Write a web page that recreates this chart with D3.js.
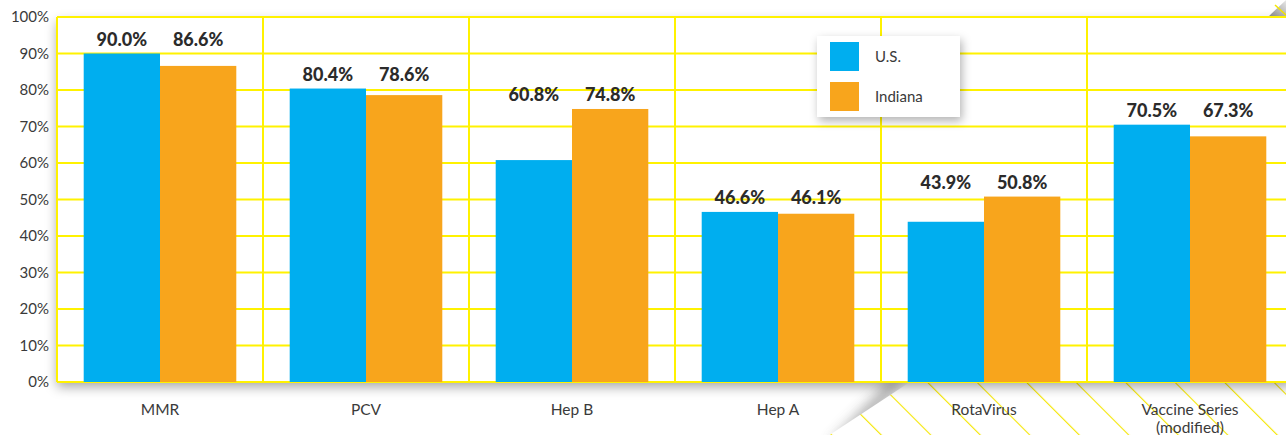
<!DOCTYPE html>
<html>
<head>
<meta charset="utf-8">
<script src="https://cdn.jsdelivr.net/npm/d3@7"></script>
<style>
  html, body { margin: 0; padding: 0; background: #fff; }
  svg { display: block; }
</style>
</head>
<body>
<svg id="chart" width="1286" height="435"></svg>
<script>
// ---- data ----
const categories = ["MMR", "PCV", "Hep B", "Hep A", "RotaVirus", "Vaccine Series (modified)"];
const categoryLines = [["MMR"], ["PCV"], ["Hep B"], ["Hep A"], ["RotaVirus"], ["Vaccine Series", "(modified)"]];
const seriesNames = ["U.S.", "Indiana"];
const usValues = [90.0, 80.4, 60.8, 46.6, 43.9, 70.5];
const indianaValues = [86.6, 78.6, 74.8, 46.1, 50.8, 67.3];
const yTicks = [0, 10, 20, 30, 40, 50, 60, 70, 80, 90, 100];
const colors = { "U.S.": "#00aeef", "Indiana": "#f8a51c" };

const W = 1286, H = 435;
const plot = { left: 57, right: 1293, top: 17, bottom: 382 };
const svg = d3.select("#chart");
const defs = svg.append("defs");

// filters
const sh = defs.append("filter").attr("id", "plotShadow")
  .attr("x", "-5%").attr("y", "-20%").attr("width", "110%").attr("height", "140%");
sh.append("feDropShadow").attr("dx", 0).attr("dy", 5).attr("stdDeviation", 6)
  .attr("flood-color", "#000").attr("flood-opacity", 0.35);
const lsh = defs.append("filter").attr("id", "legendShadow")
  .attr("x", "-30%").attr("y", "-30%").attr("width", "160%").attr("height", "170%");
lsh.append("feDropShadow").attr("dx", 2).attr("dy", 4).attr("stdDeviation", 5)
  .attr("flood-color", "#000").attr("flood-opacity", 0.3);
const blur = defs.append("filter").attr("id", "blur").attr("x", "-50%").attr("y", "-50%")
  .attr("width", "200%").attr("height", "200%");
blur.append("feGaussianBlur").attr("stdDeviation", 7);

// stripes pattern
const pat = defs.append("pattern").attr("id", "stripes").attr("patternUnits", "userSpaceOnUse")
  .attr("width", 35).attr("height", 35).attr("patternTransform", "rotate(-45)");
pat.append("rect").attr("width", 35).attr("height", 35).attr("fill", "#fff");
pat.append("line").attr("x1", 0).attr("y1", 0).attr("x2", 0).attr("y2", 35)
  .attr("stroke", "#f5e600").attr("stroke-width", 2.2);
// corner gradient
const cg = defs.append("linearGradient").attr("id", "cornerGrad")
  .attr("x1", "0").attr("y1", "1").attr("x2", "1").attr("y2", "0");
cg.append("stop").attr("offset", "0").attr("stop-color", "#888");
cg.append("stop").attr("offset", "1").attr("stop-color", "#e8e8e8");

svg.append("rect").attr("width", W).attr("height", H).attr("fill", "#fff");

// striped folded area beneath right part of plot
const foldPts = [[910, plot.bottom], [W + 20, plot.bottom], [W + 20, H + 20], [852 - 53, H + 20]];
svg.append("polygon")
  .attr("points", [[904, plot.bottom], [846, H + 10], [830, H + 10], [890, plot.bottom]].join(" "))
  .attr("fill", "#555").attr("opacity", 0.6).attr("filter", "url(#blur)");
svg.append("polygon").attr("points", foldPts.join(" ")).attr("fill", "url(#stripes)");

// top-right folded corner
svg.append("polygon")
  .attr("points", [[1268, plot.top], [W, 0], [W, plot.top]].join(" "))
  .attr("fill", "url(#cornerGrad)");
svg.append("line").attr("x1", 1275).attr("y1", 5).attr("x2", W).attr("y2", 15)
  .attr("stroke", "#f5e600").attr("stroke-width", 1.5);

// scales
const x0 = d3.scaleBand().domain(categories).range([plot.left, plot.right]).padding(0);
const x1 = d3.scaleBand().domain(seriesNames).range([0, x0.bandwidth()])
  .paddingInner(0).paddingOuter(0.35);
const y = d3.scaleLinear().domain([0, 100]).range([plot.bottom, plot.top]);

// plot background with shadow
svg.append("rect").attr("x", plot.left).attr("y", plot.top)
  .attr("width", plot.right - plot.left).attr("height", plot.bottom - plot.top)
  .attr("fill", "#fff").attr("filter", "url(#plotShadow)");

// grid
const grid = svg.append("g");
const gridColor = "#fff200";
grid.selectAll("line.h").data(yTicks).join("line")
  .attr("x1", plot.left).attr("x2", plot.right)
  .attr("y1", d => y(d)).attr("y2", d => y(d))
  .attr("stroke", gridColor).attr("stroke-width", 2);
grid.selectAll("line.v").data(categories).join("line")
  .attr("x1", d => x0(d)).attr("x2", d => x0(d))
  .attr("y1", plot.top).attr("y2", plot.bottom)
  .attr("stroke", gridColor).attr("stroke-width", 2);

// bars
const rows = categories.map((c, i) => ({ cat: c, vals: [
  { s: "U.S.", v: usValues[i] }, { s: "Indiana", v: indianaValues[i] }] }));
const groups = svg.append("g").selectAll("g").data(rows).join("g")
  .attr("transform", d => `translate(${x0(d.cat)},0)`);
groups.selectAll("rect").data(d => d.vals).join("rect")
  .attr("x", d => x1(d.s)).attr("width", x1.bandwidth())
  .attr("y", d => y(d.v)).attr("height", d => y(0) - y(d.v))
  .attr("fill", d => colors[d.s]);
// value labels
groups.selectAll("text").data(d => d.vals.map(v => ({ ...v, max: d3.max(d.vals, q => q.v) }))).join("text")
  .attr("x", d => x1(d.s) + x1.bandwidth() / 2)
  .attr("y", d => y(d.max) - 8)
  .attr("text-anchor", "middle")
  .attr("font-family", "Lato, 'Open Sans', sans-serif")
  .attr("font-weight", 900).attr("font-size", 18).attr("fill", "#2b2b2b")
  .text(d => d.v.toFixed(1) + "%");

// y axis labels
const yAxis = d3.axisLeft(y).tickValues(yTicks).tickFormat(d => d + "%").tickSize(0).tickPadding(8);
const ya = svg.append("g").attr("transform", `translate(${plot.left},0)`).call(yAxis);
ya.select(".domain").remove();
ya.selectAll("text").attr("font-family", "Lato, 'Open Sans', sans-serif")
  .attr("font-size", 15).attr("fill", "#3a3a3a");

// x axis labels
const xAxis = d3.axisBottom(x0).tickSize(0).tickFormat("");
const xa = svg.append("g").attr("transform", `translate(0,${plot.bottom})`).call(xAxis);
xa.select(".domain").remove();
xa.selectAll(".tick").each(function (d, i) {
  const t = d3.select(this).append("text")
    .attr("text-anchor", "middle")
    .attr("font-family", "Lato, 'Open Sans', sans-serif")
    .attr("font-size", 15.5).attr("fill", "#3a3a3a");
  categoryLines[i].forEach((ln, k) => {
    t.append("tspan").attr("x", 0).attr("y", 33 + k * 18).text(ln);
  });
});

// legend
const lg = svg.append("g").attr("transform", "translate(817,36)");
lg.append("rect").attr("width", 143).attr("height", 81).attr("fill", "#fff")
  .attr("filter", "url(#legendShadow)");
seriesNames.forEach((s, i) => {
  lg.append("rect").attr("x", 13).attr("y", 6 + i * 40).attr("width", 29).attr("height", 29)
    .attr("fill", colors[s]);
  lg.append("text").attr("x", 58).attr("y", 26 + i * 40)
    .attr("font-family", "Lato, 'Open Sans', sans-serif")
    .attr("font-size", 15).attr("fill", "#3a3a3a").text(s);
});
</script>
</body>
</html>
